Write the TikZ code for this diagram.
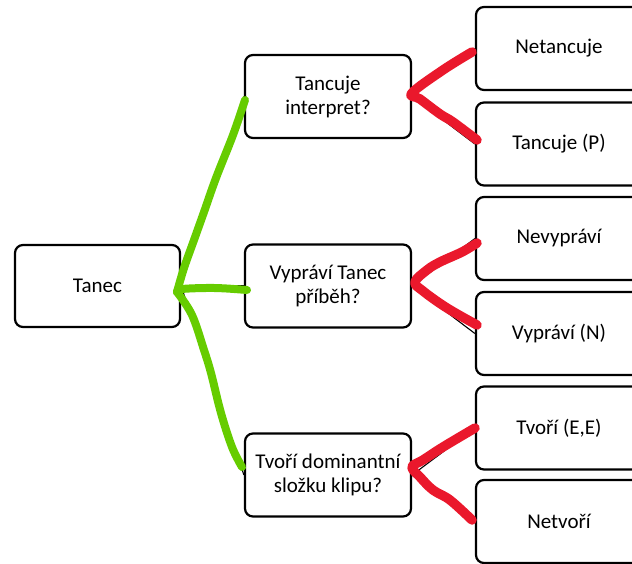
\documentclass[tikz,border=0pt]{standalone}
\usepackage{fontspec}
\setmainfont{Carlito}
\definecolor{markgreen}{RGB}{102,204,0}
\definecolor{markred}{RGB}{234,24,44}

\begin{document}
\begin{tikzpicture}[x=1pt, y=-1pt,
    box/.style={draw, rounded corners=8pt, line width=2.2pt, minimum width=166pt, minimum height=83pt,
                align=center, inner sep=2pt, font=\fontsize{21}{24}\selectfont},
    link/.style={line width=1.1pt},
    greenmark/.style={markgreen, line width=8pt, line cap=round, line join=round},
    redmark/.style={markred, line width=9.5pt, line cap=round, line join=round}]
    \useasboundingbox (0,0) rectangle (632,563);
    \clip (0,0) rectangle (632,563);

    % Root
    \node[box, minimum width=165pt, minimum height=82pt] (tanec) at (97.5,286) {Tanec};

    % Questions
    \node[box] (q1) at (328,96.5) {Tancuje\\interpret?};
    \node[box] (q2) at (328,286) {Vypráví Tanec\\příběh?};
    \node[box] (q3) at (328,475) {Tvoří dominantní\\složku klipu?};

    % Answers
    \node[box] (a1) at (559,48.5) {Netancuje};
    \node[box] (a2) at (559,144) {Tancuje (P)};
    \node[box] (a3) at (559,238.5) {Nevypráví};
    \node[box] (a4) at (559,333.5) {Vypráví (N)};
    \node[box] (a5) at (559,428) {Tvoří (E,E)};
    \node[box] (a6) at (559,521.5) {Netvoří};

    % Thin connectors underneath
    \foreach \q in {q1,q2,q3} {
        \draw[link] (tanec.east) -- (\q.west);
    }
    \draw[link] (q1.east) -- (a1.west);
    \draw[link] (q1.east) -- (a2.west);
    \draw[link] (q2.east) -- (a3.west);
    \draw[link] (q2.east) -- (a4.west);
    \draw[link] (q3.east) -- (a5.west);
    \draw[link] (q3.east) -- (a6.west);

    % Hand-drawn green marks
    \draw[greenmark] plot[smooth, tension=0.6] coordinates {(245,100) (233,135) (216,178) (204,212) (194,240) (184,268) (177,292)};
    \draw[greenmark] plot[smooth, tension=0.6] coordinates {(177,292) (182,289) (215,288) (247,290)};
    \draw[greenmark] plot[smooth, tension=0.6] coordinates {(177,292) (192,315) (204,350) (211,373) (221,413) (232,447) (242,467)};

    % Hand-drawn red marks
    \draw[redmark] plot[smooth, tension=0.6] coordinates {(472,52) (443,70) (412,93) (420,99) (440,114) (453,122) (477,140)};
    \draw[redmark] plot[smooth, tension=0.6] coordinates {(477,243) (462,252) (440,262) (427,270) (415,282) (423,291) (447,308) (477,325)};
    \draw[redmark] plot[smooth, tension=0.6] coordinates {(475,428) (443,447) (423,460) (412,467) (420,477) (433,490) (450,500) (472,520)};
\end{tikzpicture}
\end{document}
